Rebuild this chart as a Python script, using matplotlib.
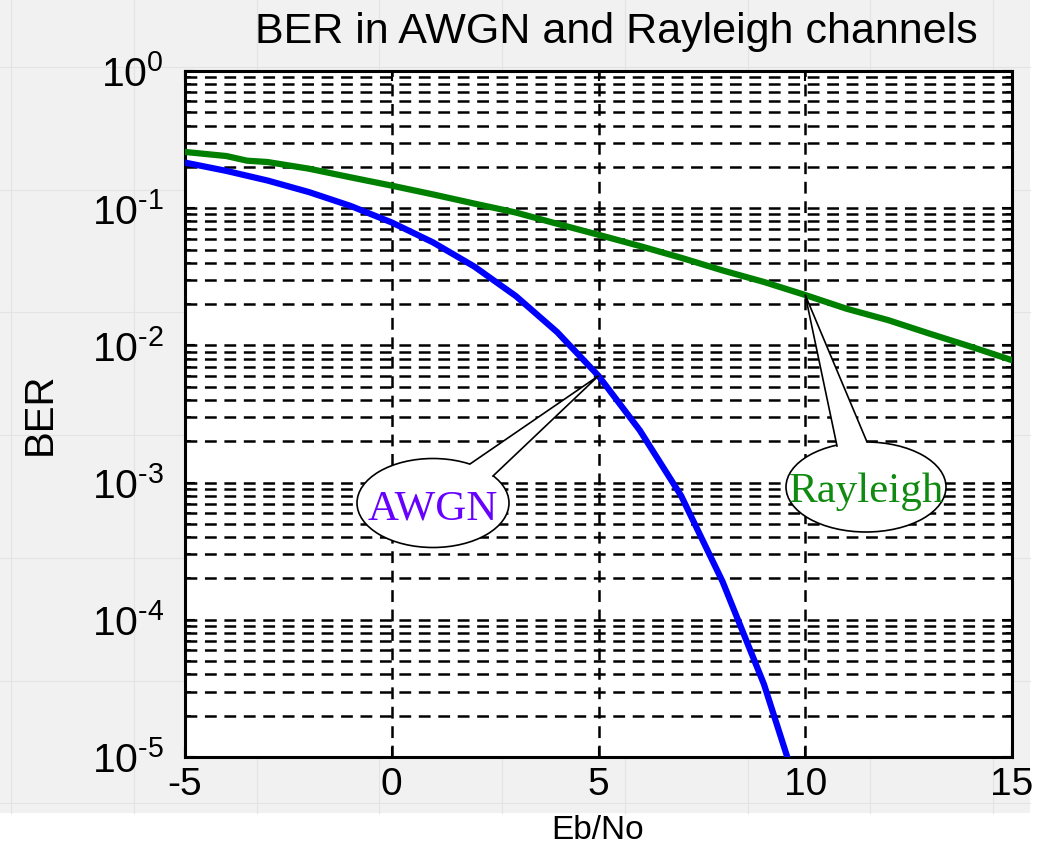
import matplotlib
matplotlib.use('Agg')
import matplotlib.pyplot as plt
from matplotlib.patches import Ellipse, Polygon, Rectangle
from matplotlib.lines import Line2D

plt.rcParams['font.family'] = ['Liberation Sans', 'DejaVu Sans']
plt.rcParams['mathtext.fontset'] = 'custom'
plt.rcParams['mathtext.rm'] = 'Liberation Sans'
plt.rcParams['mathtext.it'] = 'Liberation Sans:italic'
plt.rcParams['mathtext.bf'] = 'Liberation Sans:bold'
plt.rcParams['lines.scale_dashes'] = False

# Simulated bit error rates (BPSK) versus Eb/No in dB
ebno_awgn = [-5, -4, -3, -2, -1, 0, 1, 2, 3, 4, 5, 6, 7, 8, 9, 10]
ber_awgn = [0.215, 0.187, 0.159, 0.131, 0.104, 0.0787, 0.0563, 0.0375,
            0.0229, 0.0125, 0.0060, 0.0024, 0.00080, 0.00019, 3.4e-5, 3.9e-6]

ebno_rayleigh = [-5, -4, -3.5, -3, -2, -1, 0, 1, 2, 3, 4, 5, 6, 7, 8, 9,
                 10, 11, 12, 13, 14, 15]
ber_rayleigh = [0.257, 0.240, 0.222, 0.217, 0.194, 0.168, 0.146, 0.126,
                0.108, 0.093, 0.077, 0.064, 0.053, 0.0435, 0.0352, 0.0290,
                0.0233, 0.0185, 0.0153, 0.0122, 0.0098, 0.0078]

x_ticks = [-5, 0, 5, 10, 15]
x_tick_labels = ['-5', '0', '5', '10', '15']
y_ticks = [1e0, 1e-1, 1e-2, 1e-3, 1e-4, 1e-5]
y_tick_labels = [r'$\mathregular{10^{0}}$', r'$\mathregular{10^{\text{-}1}}$',
                 r'$\mathregular{10^{\text{-}2}}$', r'$\mathregular{10^{\text{-}3}}$',
                 r'$\mathregular{10^{\text{-}4}}$', r'$\mathregular{10^{\text{-}5}}$']

title_text = 'BER in AWGN and Rayleigh channels'
x_label = 'Eb/No'
y_label = 'BER'

W, H = 1062, 847
fig = plt.figure(figsize=(W / 100, H / 100), dpi=100)
fig.patch.set_facecolor('white')

# light grey backdrop with faint grid
fig.add_artist(Rectangle((0, 1 - 813 / H), 1030 / W, 813 / H,
                         transform=fig.transFigure, facecolor='#f1f1f1',
                         edgecolor='none', zorder=-10))
for k in range(9):
    xp = 11 + 122.75 * k
    if xp < 1030:
        fig.add_artist(Line2D([xp / W, xp / W], [1 - 813 / H, 1],
                              transform=fig.transFigure, color='#e3e3e3',
                              lw=0.8, zorder=-9))
for k in range(7):
    yp = 67 + 122.7 * k
    if yp < 813:
        fig.add_artist(Line2D([0, 1030 / W], [1 - yp / H, 1 - yp / H],
                              transform=fig.transFigure, color='#e3e3e3',
                              lw=0.8, zorder=-9))

ax_l, ax_r, ax_t, ax_b = 185, 1012, 71, 757
ax = fig.add_axes([ax_l / W, 1 - ax_b / H, (ax_r - ax_l) / W, (ax_b - ax_t) / H])
ax.set_facecolor('white')

ax.semilogy(ebno_awgn, ber_awgn, color='#0000ff', lw=4.5, solid_joinstyle='round', zorder=3)
ax.semilogy(ebno_rayleigh, ber_rayleigh, color='#008000', lw=4.5, solid_joinstyle='round', zorder=3)

ax.set_xlim(-5, 15)
ax.set_ylim(1e-5, 1e0)
ax.set_xticks(x_ticks)
ax.set_xticklabels(x_tick_labels)
ax.set_yticks(y_ticks)
ax.set_yticklabels(y_tick_labels)

dash = (0, (8.5, 5.5))
ax.grid(True, which='both', axis='y', color='black', lw=1.8, linestyle=dash)
ax.grid(True, which='major', axis='x', color='black', lw=1.8, linestyle=dash)
ax.set_axisbelow(True)

ax.tick_params(axis='both', which='both', direction='in', top=True, right=True,
               color='black')
ax.tick_params(axis='both', which='major', length=7, width=1.5)
ax.tick_params(axis='y', which='minor', length=4, width=1.2)
ax.tick_params(axis='x', which='major', pad=7, labelsize=28)
ax.tick_params(axis='y', which='major', pad=15, labelsize=29.5)
for s in ax.spines.values():
    s.set_linewidth(2.2)
    s.set_color('black')

ax.set_ylabel(y_label, fontsize=29, labelpad=24)
fig.text(598 / W, 1 - 846 / H, x_label, fontsize=24, ha='center', va='bottom')
fig.text(616 / W, 1 - 43 / H, title_text, fontsize=31, ha='center', va='baseline')


def to_axes(px, py):
    return ((px - ax_l) / (ax_r - ax_l), (ax_b - py) / (ax_b - ax_t))


def bubble(center_px, size_px, base1_px, base2_px, tip_data, text, color, baseline_py):
    cx, cy = to_axes(*center_px)
    ew = size_px[0] / (ax_r - ax_l)
    eh = size_px[1] / (ax_b - ax_t)
    ax.add_patch(Ellipse((cx, cy), ew, eh, transform=ax.transAxes,
                         facecolor='white', edgecolor='black', lw=1.2, zorder=5))
    tip = ax.transAxes.inverted().transform(ax.transData.transform(tip_data))
    b1 = to_axes(*base1_px)
    b2 = to_axes(*base2_px)
    # pull points slightly inside the ellipse to hide the outline under the tail
    def inward(p, f=0.12):
        return (p[0] + (cx - p[0]) * f, p[1] + (cy - p[1]) * f)
    ax.add_patch(Polygon([b1, tuple(tip), b2, inward(b2), inward(b1)],
                         closed=True, transform=ax.transAxes,
                         facecolor='white', edgecolor='none', zorder=6))
    ax.add_line(Line2D([b1[0], tip[0], b2[0]], [b1[1], tip[1], b2[1]],
                       transform=ax.transAxes, color='black', lw=1.2, zorder=7))
    tx, ty = to_axes(center_px[0], baseline_py)
    ax.text(tx, ty, text, transform=ax.transAxes, ha='center', va='baseline',
            fontsize=31, family='Liberation Serif', color=color, zorder=8)


bubble((433, 503), (152, 89), (470, 464), (493, 476),
       (ebno_awgn[10], ber_awgn[10]), 'AWGN', '#6600ff', 519)
bubble((866, 487), (160, 90), (837, 446), (867, 442),
       (ebno_rayleigh[16], ber_rayleigh[16]), 'Rayleigh', '#108a10', 502)

fig.savefig('out.png', dpi=100, facecolor=fig.get_facecolor())
